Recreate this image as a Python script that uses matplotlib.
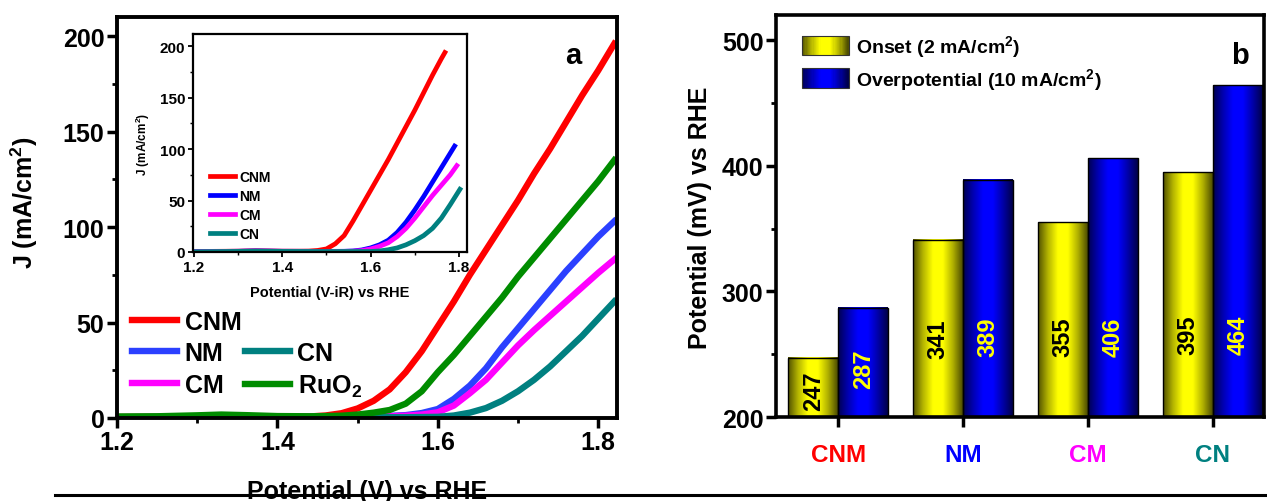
import matplotlib.pyplot as plt
import numpy as np
from matplotlib.colors import LinearSegmentedColormap
from matplotlib.legend_handler import HandlerBase
from matplotlib.lines import Line2D
from matplotlib.patches import Rectangle

plt.rcParams['font.family'] = ['Liberation Sans', 'DejaVu Sans']
plt.rcParams['font.weight'] = 'bold'
plt.rcParams['mathtext.fontset'] = 'custom'
plt.rcParams['mathtext.rm'] = 'Liberation Sans:bold'
plt.rcParams['mathtext.it'] = 'Liberation Sans:bold'
plt.rcParams['mathtext.bf'] = 'Liberation Sans:bold'

# ---- panel a: LSV curves ----
v_main = [1.20, 1.25, 1.30, 1.33, 1.36, 1.40, 1.44, 1.46, 1.48, 1.50, 1.52,
          1.54, 1.56, 1.58, 1.60, 1.62, 1.64, 1.66, 1.68, 1.70, 1.72, 1.74,
          1.76, 1.78, 1.80, 1.82]
j_cnm = [0.5, 0.6, 0.9, 1.2, 1.0, 0.7, 0.8, 1.3, 2.5, 5, 9,
         15, 24, 35, 48, 61, 75, 88, 101, 114, 128, 141,
         155, 169, 182, 196]
j_nm = [0.4, 0.5, 0.7, 0.9, 0.8, 0.6, 0.6, 0.6, 0.7, 0.8, 0.9,
        1.1, 1.5, 2.6, 4.7, 10, 17, 26, 37, 47, 57, 67,
        77, 86, 95, 103]
j_cm = [0.4, 0.5, 0.7, 0.9, 0.8, 0.6, 0.6, 0.6, 0.6, 0.7, 0.8,
        0.9, 1.2, 1.8, 3, 6.5, 13, 20, 29, 38, 46, 53.5,
        61, 68.5, 76, 83]
j_cn = [0.3, 0.4, 0.6, 0.8, 0.7, 0.5, 0.5, 0.5, 0.5, 0.5, 0.5,
        0.4, 0.4, 0.5, 0.6, 1.3, 2.8, 5.2, 9, 14, 20, 27,
        35, 43, 52, 61]
j_ruo2 = [0.8, 0.9, 1.4, 1.8, 1.5, 1.0, 0.9, 1.0, 1.2, 1.8, 2.8,
          4.2, 7.5, 14, 24, 33, 43, 53, 63, 74, 84, 94,
          104, 114, 124, 135]

# inset (iR corrected)
v_in_cnm = [1.20, 1.30, 1.34, 1.40, 1.44, 1.46, 1.48, 1.50, 1.52, 1.54, 1.56,
            1.58, 1.60, 1.62, 1.64, 1.66, 1.68, 1.70, 1.72, 1.74, 1.76, 1.768]
j_in_cnm = [0.5, 0.8, 1.2, 0.8, 0.8, 0.9, 1.5, 3, 8, 16, 30,
            45, 60, 75, 90, 106, 122, 138, 155, 172, 188, 194]
v_in_nm = [1.20, 1.30, 1.34, 1.40, 1.50, 1.54, 1.56, 1.58, 1.60, 1.62, 1.64,
           1.66, 1.68, 1.70, 1.72, 1.74, 1.76, 1.78, 1.79]
j_in_nm = [0.4, 0.7, 1.0, 0.7, 0.6, 0.7, 1.0, 2, 4, 7, 11.5,
           19, 29, 41, 54, 68, 82, 96, 103]
v_in_cm = [1.20, 1.30, 1.34, 1.40, 1.50, 1.54, 1.56, 1.58, 1.60, 1.62, 1.64,
           1.66, 1.68, 1.70, 1.72, 1.74, 1.76, 1.78, 1.795]
j_in_cm = [0.4, 0.7, 1.0, 0.7, 0.6, 0.6, 0.8, 1.4, 3, 5.5, 9,
           15, 23, 33, 44, 55, 65, 75, 84]
v_in_cn = [1.20, 1.30, 1.34, 1.40, 1.50, 1.55, 1.60, 1.62, 1.64, 1.66, 1.68,
           1.70, 1.72, 1.74, 1.76, 1.78, 1.802]
j_in_cn = [0.3, 0.6, 0.9, 0.6, 0.5, 0.5, 0.5, 1.0, 2.2, 4, 7,
           11, 16, 23, 33, 46, 61]

# ---- panel b: bars ----
categories = ['CNM', 'NM', 'CM', 'CN']
cat_colors = ['#ff0000', '#0000ff', '#ff00ff', '#008080']
onset = [247, 341, 355, 395]
overpot = [287, 389, 406, 464]

W, H = 1267, 502
fig = plt.figure(figsize=(W / 100, H / 100), dpi=100)


def px_axes(l, t, r, b):
    return fig.add_axes([l / W, 1 - b / H, (r - l) / W, (b - t) / H])


def style_axes(ax, lw, tsize, tlen, twid):
    for s in ax.spines.values():
        s.set_linewidth(lw)
    ax.tick_params(which='major', direction='out', length=tlen, width=twid,
                   labelsize=tsize, pad=2)
    ax.tick_params(which='minor', direction='out', length=tlen * 0.55,
                   width=twid * 0.8)


# main panel
ax = px_axes(117, 18, 617, 419)
kw = dict(lw=4.6, solid_joinstyle='round')
ax.plot(v_main, j_cnm, color='#ff0000', label='CNM', **kw)
ax.plot(v_main, j_nm, color='#2b40ff', label='NM', **kw)
ax.plot(v_main, j_cm, color='#ff00ff', label='CM', **kw)
ax.plot([], [], color='none', label=' ')
ax.plot(v_main, j_cn, color='#008080', label='CN', **kw)
ax.plot(v_main, j_ruo2, color='#008c00', label='RuO$_2$', **kw)
ax.set_xlim(1.2, 1.8234)
ax.set_ylim(0, 210)
ax.set_xticks([1.2, 1.4, 1.6, 1.8])
ax.set_xticks([1.3, 1.5, 1.7], minor=True)
ax.set_yticks([0, 50, 100, 150, 200])
ax.set_yticks([25, 75, 125, 175], minor=True)
style_axes(ax, 2.8, 18, 7, 2.5)
ax.set_ylabel('J (mA/cm$^2$)', fontsize=18, fontweight='bold')
ax.yaxis.set_label_coords(-0.155, 0.54)
ax.set_xlabel('Potential (V) vs RHE', fontsize=18, fontweight='bold')
ax.xaxis.set_label_coords(0.5, -0.152)
ax.text(0.912, 0.905, 'a', transform=ax.transAxes, fontsize=21,
        fontweight='bold', ha='center', va='center')
ax.legend(ncol=2, loc='upper left', bbox_to_anchor=(0.03, 0.27),
          borderaxespad=0, borderpad=0, frameon=False, fontsize=18,
          handlelength=1.8, handletextpad=0.3, columnspacing=0.15,
          labelspacing=0.3)

# inset
axi = px_axes(193, 35, 467, 253)
kwi = dict(lw=3.4, solid_joinstyle='round')
axi.plot(v_in_cnm, j_in_cnm, color='#ff0000', label='CNM', **kwi)
axi.plot(v_in_nm, j_in_nm, color='#0000ff', label='NM', **kwi)
axi.plot(v_in_cm, j_in_cm, color='#ff00ff', label='CM', **kwi)
axi.plot(v_in_cn, j_in_cn, color='#008080', label='CN', **kwi)
axi.set_xlim(1.198, 1.818)
axi.set_ylim(0, 212)
axi.set_xticks([1.2, 1.4, 1.6, 1.8])
axi.set_xticks([1.3, 1.5, 1.7], minor=True)
axi.set_yticks([0, 50, 100, 150, 200])
axi.set_yticks([25, 75, 125, 175], minor=True)
style_axes(axi, 1.6, 11, 3.5, 1.3)
axi.set_xlabel('Potential (V-iR) vs RHE', fontsize=10.5, fontweight='bold',
               labelpad=8)
axi.set_ylabel('J (mA/cm$^2$)', fontsize=8.5, fontweight='bold', labelpad=6)
axi.legend(loc='upper left', bbox_to_anchor=(0.062, 0.375), borderaxespad=0,
           borderpad=0, frameon=False, fontsize=10, handlelength=1.8,
           handletextpad=0.3, labelspacing=0.35)

# bar panel
axb = px_axes(776, 16, 1264, 418)
ycmap = LinearSegmentedColormap.from_list(
    'ygrad', ['#505000', '#b4b400', '#ffff00', '#ffff00', '#b0b000', '#4a4a00'])
bcmap = LinearSegmentedColormap.from_list(
    'bgrad', ['#000050', '#0000b0', '#0000ff', '#0000ff', '#0000a8', '#000048'])
grad = np.linspace(0, 1, 256).reshape(1, -1)

x = np.arange(len(categories))
w = 0.4
for vals, off, cmap in [(onset, -w / 2, ycmap), (overpot, w / 2, bcmap)]:
    bars = axb.bar(x + off, vals, w, facecolor='none', edgecolor='black',
                   lw=1.0, zorder=3)
    for r in bars:
        axb.imshow(grad, cmap=cmap, aspect='auto', zorder=2,
                   extent=[r.get_x(), r.get_x() + r.get_width(), 0, r.get_height()])

onset_text_y = [221, 263, 264, 266]
over_text_y = [239, 264, 264, 266]
for i in range(len(categories)):
    axb.text(x[i] - w / 2, onset_text_y[i], str(onset[i]), rotation=90,
             ha='center', va='center', fontsize=17, fontweight='bold',
             color='black', zorder=4)
    axb.text(x[i] + w / 2, over_text_y[i], str(overpot[i]), rotation=90,
             ha='center', va='center', fontsize=17, fontweight='bold',
             color='#ffff00', zorder=4)

axb.set_xlim(-0.5, 3.41)
axb.set_ylim(200, 520)
axb.set_xticks(x)
axb.set_xticklabels(categories)
for lab, c in zip(axb.get_xticklabels(), cat_colors):
    lab.set_color(c)
axb.set_yticks([200, 300, 400, 500])
axb.set_yticks([250, 350, 450], minor=True)
style_axes(axb, 2.6, 18, 7, 2.5)
axb.tick_params(axis='x', which='major', labelsize=17.5, pad=12)
axb.set_ylabel('Potential (mV) vs RHE', fontsize=18, fontweight='bold')
axb.yaxis.set_label_coords(-0.131, 0.497)
axb.text(0.951, 0.9, 'b', transform=axb.transAxes, fontsize=21,
         fontweight='bold', ha='center', va='center')


class GradHandler(HandlerBase):
    def __init__(self, cmap):
        super().__init__()
        self.cmap = cmap

    def create_artists(self, legend, orig_handle, xdescent, ydescent,
                       width, height, fontsize, trans):
        n = 40
        arts = []
        for i in range(n):
            arts.append(Rectangle((-xdescent + width * i / n, -ydescent),
                                  width / n * 1.3, height,
                                  facecolor=self.cmap((i + 0.5) / n),
                                  edgecolor='none', lw=0, antialiased=False,
                                  transform=trans))
        arts.append(Rectangle((-xdescent, -ydescent), width, height,
                              facecolor='none', edgecolor='#333333', lw=0.8,
                              transform=trans))
        return arts


p1 = Rectangle((0, 0), 1, 1)
p2 = Rectangle((0, 0), 1, 1)
axb.legend([p1, p2], ['Onset (2 mA/cm$^2$)', 'Overpotential (10 mA/cm$^2$)'],
           handler_map={p1: GradHandler(ycmap), p2: GradHandler(bcmap)},
           loc='upper left', bbox_to_anchor=(0.053, 0.955), borderaxespad=0,
           borderpad=0, frameon=False, fontsize=14, handlelength=2.4,
           handleheight=1.2, handletextpad=0.4, labelspacing=0.35)

# bottom rule that cuts through the x label
fig.add_artist(Line2D([55 / W, 1], [1 - 496 / H] * 2, color='black', lw=2.2,
                      zorder=10))

fig.savefig('out.png', dpi=100)
